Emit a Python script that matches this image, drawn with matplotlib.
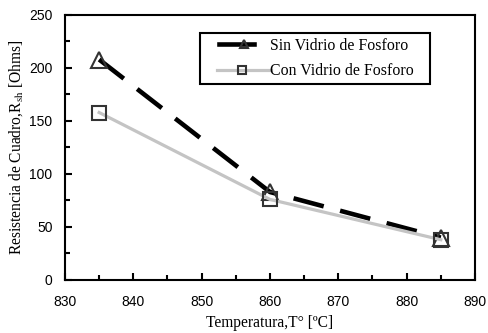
import matplotlib
matplotlib.use("Agg")
import matplotlib.pyplot as plt
from matplotlib.legend_handler import HandlerLine2DCompound

plt.rcParams["mathtext.fontset"] = "stix"

temperaturas = [835, 860, 885]
sin_vidrio = [208, 83, 40]
con_vidrio = [158, 76, 38]


class HandlerCorto(HandlerLine2DCompound):
    """Linea de leyenda con el marcador fuera del centro, como en Excel."""
    def __init__(self, x0, x1, xm, **kw):
        super().__init__(**kw)
        self.x0, self.x1, self.xm = x0, x1, xm

    def create_artists(self, legend, orig_handle, xdescent, ydescent,
                       width, height, fontsize, trans):
        arts = super().create_artists(legend, orig_handle, xdescent, ydescent,
                                      width, height, fontsize, trans)
        linea, marca = arts[0], arts[1]
        y = linea.get_ydata()[0]
        linea.set_data([-xdescent + self.x0 * width, -xdescent + self.x1 * width], [y, y])
        linea.set_linestyle("-")
        marca.set_data([-xdescent + self.xm * width], [y])
        marca.set_markersize(5.5)
        return arts


fig = plt.figure(figsize=(4.89, 3.33), dpi=100)
ax = fig.add_axes([0.1329, 0.1592, 0.8384, 0.7958])

l1, = ax.plot(temperaturas, sin_vidrio, color="black", lw=3.3, dashes=(6.8, 3.7),
              marker="^", ms=11.5, mfc="none", mec="#333333", mew=1.5,
              label="Sin Vidrio de Fosforo")
l2, = ax.plot(temperaturas, con_vidrio, color="#c4c4c4", lw=2.3,
              marker="s", ms=10.5, mfc="none", mec="#333333", mew=1.5,
              label="Con Vidrio de Fosforo")

ax.set_xlim(830, 890)
ax.set_ylim(0, 250)
ax.set_xticks(range(830, 891, 10))
ax.set_xticks(range(835, 891, 10), minor=True)
ax.set_yticks(range(0, 251, 50))
ax.set_yticks(range(25, 251, 50), minor=True)
ax.tick_params(which="both", direction="in", width=1.5)
ax.tick_params(which="major", length=5, labelsize=10)
ax.tick_params(which="minor", length=3.5)
ax.tick_params(axis="x", which="major", pad=11)
ax.tick_params(axis="y", which="major", pad=9)
for lbl in ax.get_xticklabels() + ax.get_yticklabels():
    lbl.set_family("Liberation Sans")
for s in ax.spines.values():
    s.set_linewidth(1.5)

ax.set_xlabel("Temperatura,T° [ºC]", family="Liberation Serif", fontsize=11.2, labelpad=4)
fig.text(16 / 489, 1 - 147 / 333, "Resistencia de Cuadro,R$_{\\mathrm{sh}}$ [Ohms]",
         family="Liberation Serif", fontsize=11.2, rotation=90, ha="center", va="center")

leg = ax.legend(loc="upper left", bbox_to_anchor=(0.329, 0, 0.561, 0.932), mode="expand",
                prop={"family": "Liberation Serif", "size": 11.4},
                fancybox=False, edgecolor="black", framealpha=1, borderaxespad=0,
                handlelength=4.05, handletextpad=0.1, borderpad=0.3, labelspacing=0.6,
                handler_map={l1: HandlerCorto(0.22, 0.77, 0.61, numpoints=1),
                             l2: HandlerCorto(0.19, 1.03, 0.58, numpoints=1)})
leg.get_frame().set_linewidth(1.5)

fig.savefig("out.png", dpi=100)
